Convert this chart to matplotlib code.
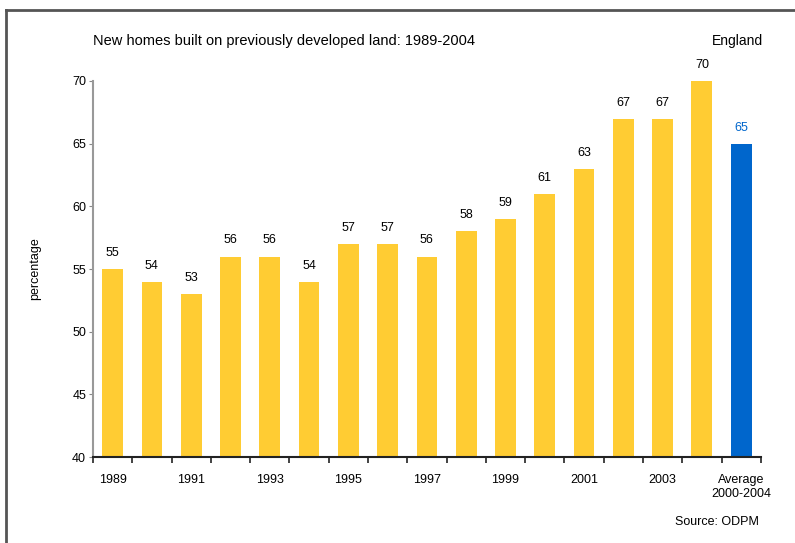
import matplotlib.pyplot as plt
from matplotlib.lines import Line2D

plt.rcParams['font.family'] = ['Liberation Sans', 'DejaVu Sans']

years = [str(y) for y in range(1989, 2005)]
values = [55, 54, 53, 56, 56, 54, 57, 57, 56, 58, 59, 61, 63, 67, 67, 70]
avg_label = "Average\n2000-2004"
avg_value = 65

yellow = "#FFCC33"
blue = "#0066CC"

categories = years + [avg_label]
heights = values + [avg_value]
colors = [yellow] * len(values) + [blue]

fig = plt.figure(figsize=(7.95, 5.43), dpi=100)
ax = fig.add_axes([0.117, 0.158, 0.840, 0.693])

x = list(range(len(categories)))
ax.bar(x, [h - 40 for h in heights], bottom=40, width=0.53, color=colors)

for i, h in enumerate(heights):
    c = blue if i == len(heights) - 1 else "black"
    ax.text(i, h + 0.8, str(h), ha="center", va="bottom", fontsize=9, color=c)

ax.set_ylim(40, 70)
ax.set_xlim(-0.5, len(categories) - 0.5)
ax.set_yticks(range(40, 71, 5))
ax.tick_params(axis="y", labelsize=9, length=3, color="#888888", pad=2)

# boundary ticks on the x axis, labels every other year
ax.set_xticks([i - 0.5 for i in range(len(categories) + 1)])
ax.set_xticklabels([])
ax.tick_params(axis="x", which="major", length=4, width=1.2, color="#222222")
label_pos = [i for i in range(0, len(years), 2)] + [len(categories) - 1]
ax.set_xticks(label_pos, minor=True)
ax.set_xticklabels([categories[i] for i in label_pos], minor=True)
ax.tick_params(axis="x", which="minor", length=0, labelsize=9, pad=12)

ax.spines["top"].set_visible(False)
ax.spines["right"].set_visible(False)
ax.spines["left"].set_color("#999999")
ax.spines["left"].set_linewidth(1.5)
ax.spines["bottom"].set_color("#222222")
ax.spines["bottom"].set_linewidth(1.5)

ax.set_ylabel("percentage", fontsize=9, labelpad=22)

fig.text(0.117, 0.925, "New homes built on previously developed land: 1989-2004",
         fontsize=10.5, ha="left", va="center")
fig.text(0.96, 0.925, "England", fontsize=10, ha="right", va="center")
fig.text(0.955, 0.038, "Source: ODPM", fontsize=9, ha="right", va="center")

# frame around the figure (cropped on right and bottom)
fig.add_artist(Line2D([0.0075, 1.0], [0.982, 0.982], color="#555555", lw=2,
                      transform=fig.transFigure))
fig.add_artist(Line2D([0.0075, 0.0075], [0.0, 0.982], color="#555555", lw=2,
                      transform=fig.transFigure))

fig.savefig("out.png", dpi=100)
